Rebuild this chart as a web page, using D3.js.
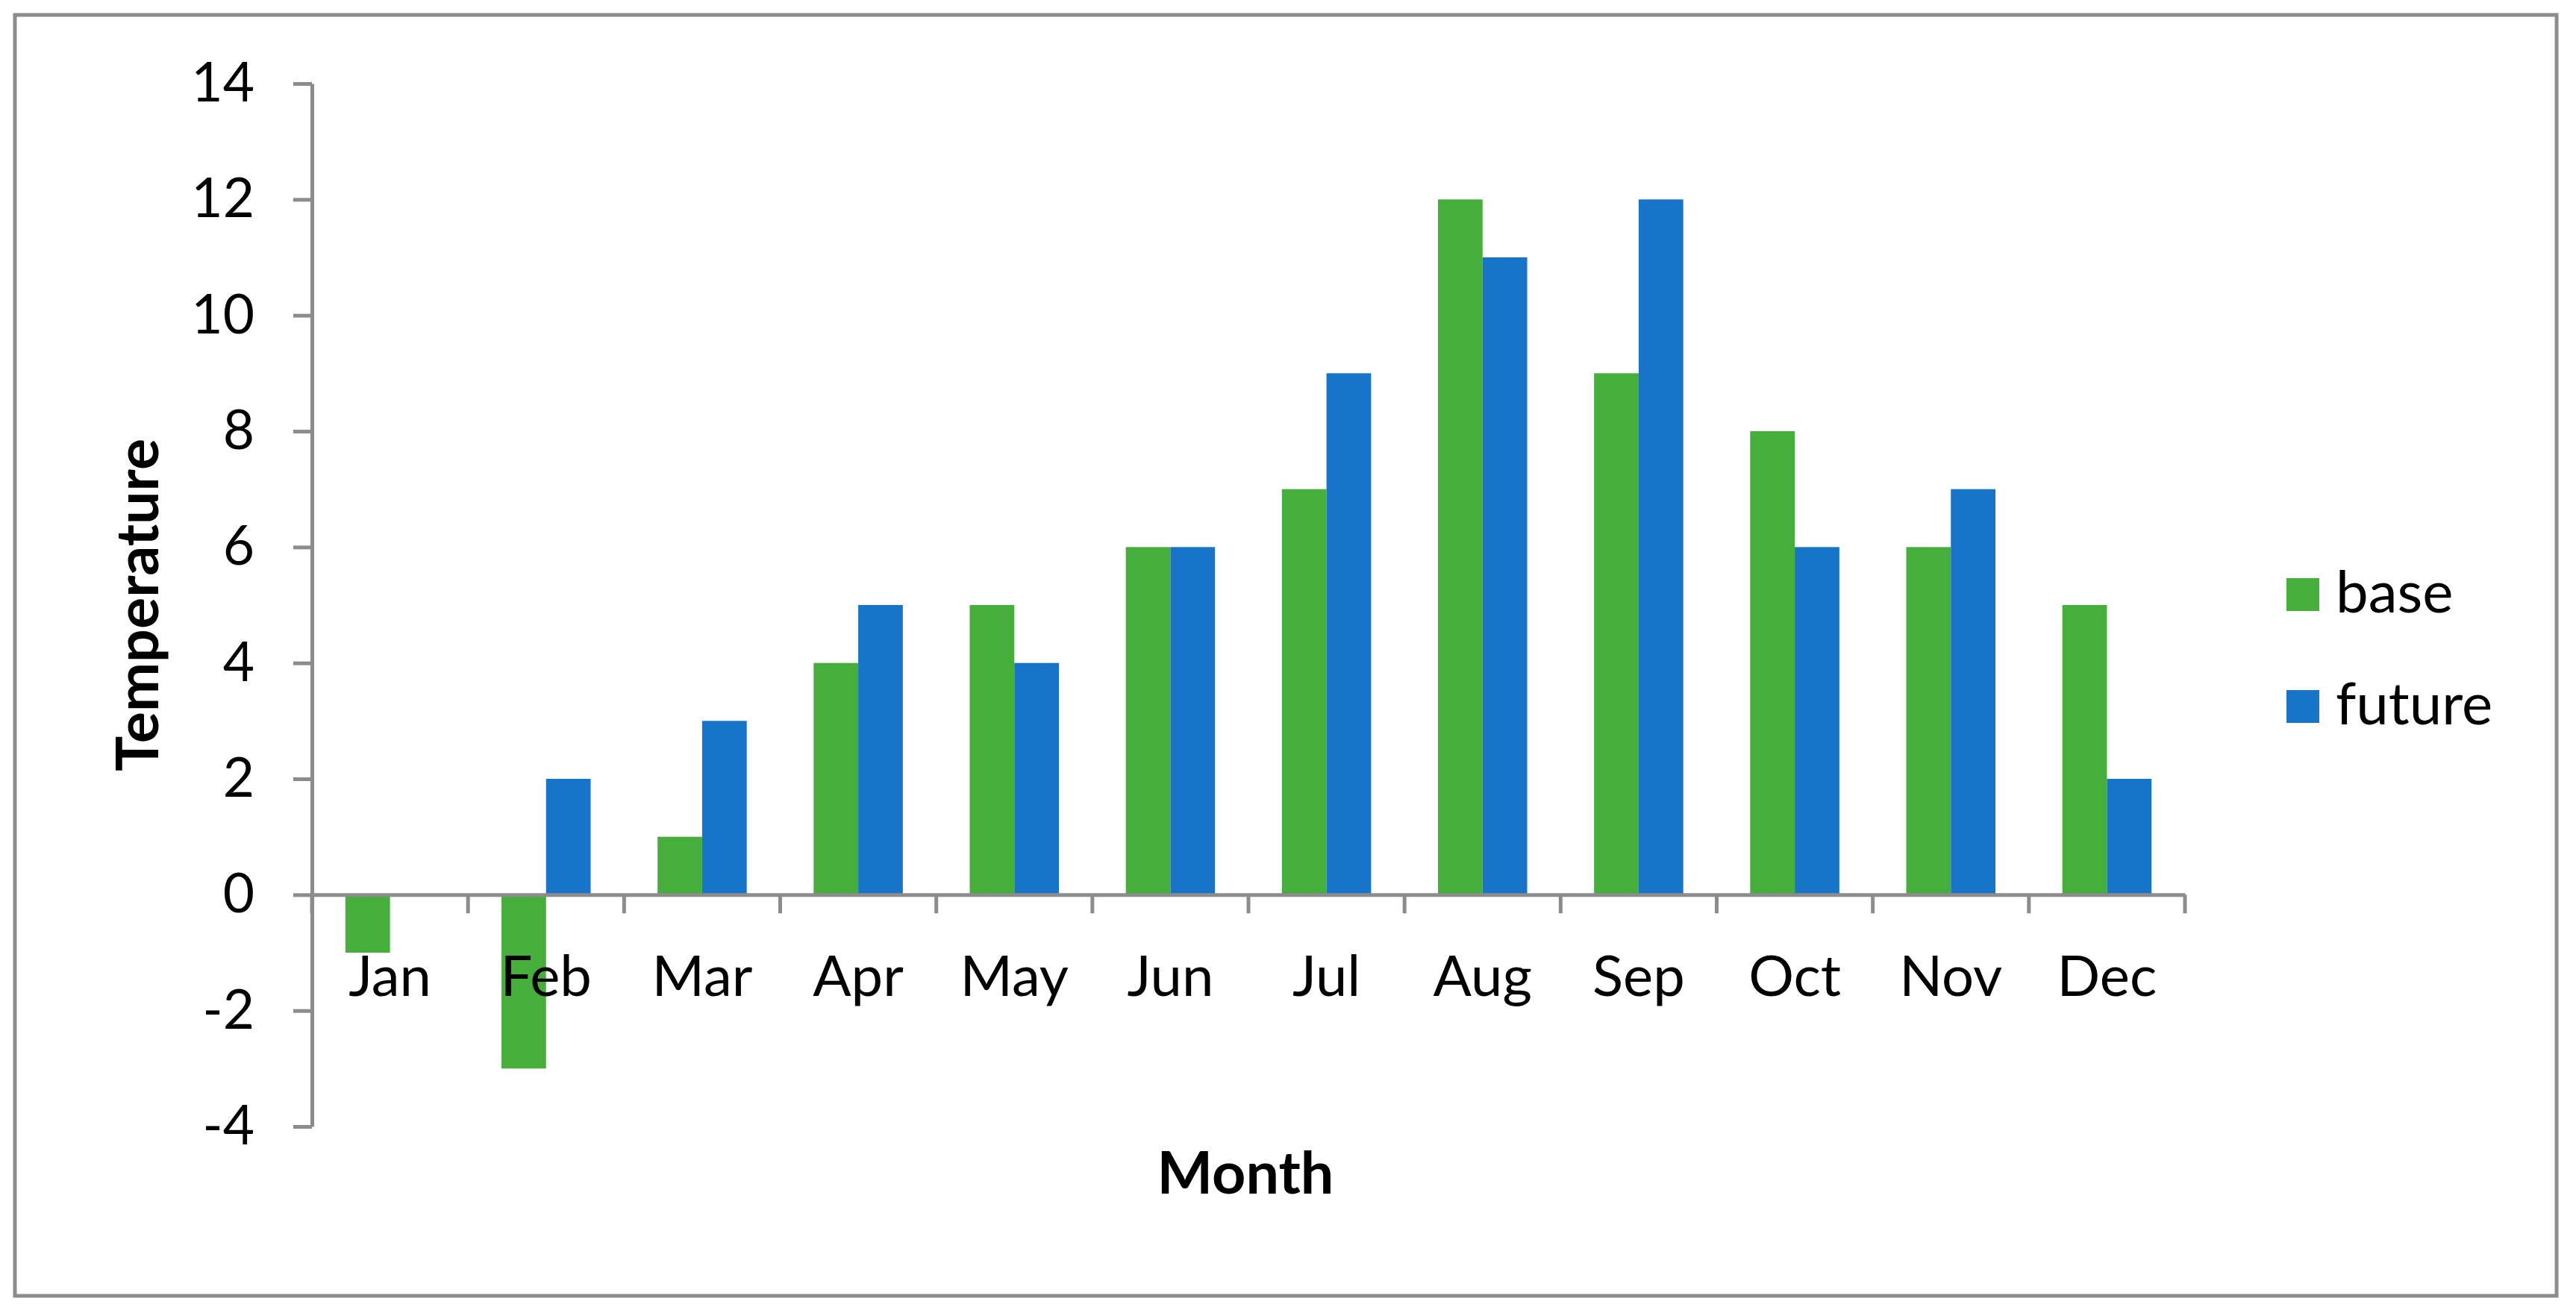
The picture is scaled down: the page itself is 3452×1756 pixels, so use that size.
<!DOCTYPE html>
<html><head><meta charset="utf-8">
<script src="https://cdn.jsdelivr.net/npm/d3@7"></script>
<style>body{margin:0;background:#fff}svg{display:block}</style>
</head><body>
<script>
const months = ["Jan","Feb","Mar","Apr","May","Jun","Jul","Aug","Sep","Oct","Nov","Dec"];
const baseValues = [-1,-3,1,4,5,6,7,12,9,8,6,5];
const futureValues = [0,2,3,5,4,6,9,11,12,6,7,2];
const seriesNames = ["base","future"];
const yTicks = [-4,-2,0,2,4,6,8,10,12,14];
const colors = ["#46AF3C","#1874C9"];

(function(){
const W=3452,H=1756;
const svg=d3.select("body").append("svg").attr("width",W).attr("height",H);
svg.append("rect").attr("width",W).attr("height",H).attr("fill","#fff");
svg.append("rect").attr("x",20).attr("y",20).attr("width",3406).attr("height",1717)
  .attr("fill","none").attr("stroke","#8c8c8c").attr("stroke-width",5);

const pl=418,pr=2928,pt=112,pb=1510;
const x=d3.scaleBand().domain(months).range([pl,pr]).paddingInner(0).paddingOuter(0);
const y=d3.scaleLinear().domain([-4,14]).range([pb,pt]);
const bw=x.bandwidth()/3.5;
const off=(x.bandwidth()-2*bw)/2;

const data=[baseValues,futureValues];
const font="Lato, 'Open Sans', sans-serif";
data.forEach((vals,si)=>{
  svg.append("g").selectAll("rect").data(months.map((m,i)=>({m,v:vals[i]}))).join("rect")
   .attr("x",d=>x(d.m)+off+si*bw)
   .attr("width",bw)
   .attr("y",d=>Math.min(y(d.v),y(0)))
   .attr("height",d=>Math.abs(y(d.v)-y(0)))
   .attr("fill",colors[si]);
});

const ya=svg.append("g").attr("transform",`translate(${pl},0)`)
  .call(d3.axisLeft(y).tickValues(yTicks).tickFormat(d=>String(d)).tickSize(25).tickPadding(52).tickSizeOuter(0));
ya.select(".domain").attr("stroke","#8c8c8c").attr("stroke-width",5);
ya.selectAll(".tick line").attr("stroke","#8c8c8c").attr("stroke-width",5);
ya.selectAll(".tick text").attr("font-family",font).attr("font-size",73).attr("fill","#000");

const xa=svg.append("g").attr("transform",`translate(0,${y(0)})`)
  .call(d3.axisBottom(x).tickSize(0).tickPadding(0));
xa.select(".domain").attr("stroke","#8c8c8c").attr("stroke-width",5);
xa.selectAll(".tick text").attr("font-family",font).attr("font-size",76).attr("fill","#000")
  .attr("dy",0).attr("y",136);
const bounds=months.map(m=>x(m)).concat([pr]);
svg.append("g").selectAll("line").data(bounds).join("line")
  .attr("x1",d=>d).attr("x2",d=>d).attr("y1",y(0)).attr("y2",y(0)+25)
  .attr("stroke","#8c8c8c").attr("stroke-width",5);

svg.append("text").attr("x",(pl+pr)/2-4).attr("y",1600).attr("text-anchor","middle")
  .attr("font-family",font).attr("font-weight","bold").attr("font-size",79).text("Month");
svg.append("text").attr("transform",`translate(212,${(pt+pb)/2}) rotate(-90)`)
  .attr("text-anchor","middle").attr("font-family",font).attr("font-weight","bold").attr("font-size",79).text("Temperature");

const lg=svg.append("g");
seriesNames.forEach((n,i)=>{
  const yy=775+i*150;
  lg.append("rect").attr("x",3064).attr("y",yy).attr("width",44).attr("height",44).attr("fill",colors[i]);
  lg.append("text").attr("x",3130).attr("y",yy+46).attr("font-family",font).attr("font-size",78).text(n);
});
})();
</script>
</body></html>
